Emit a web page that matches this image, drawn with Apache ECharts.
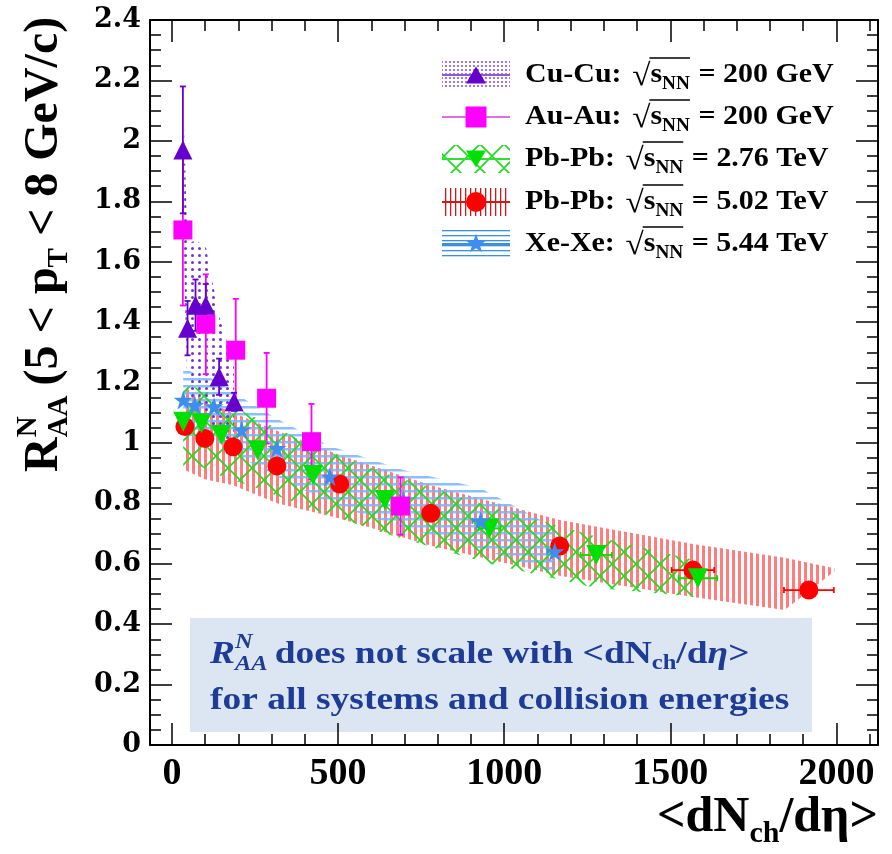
<!DOCTYPE html>
<html><head><meta charset="utf-8">
<script src="https://cdn.jsdelivr.net/npm/echarts@6/dist/echarts.min.js"></script>
<style>html,body{margin:0;padding:0;background:#fff}#c{width:892px;height:854px}</style>
</head><body><div id="c"></div>
<script>
// ---------------- data ----------------
const xMajorTicks = [0, 500, 1000, 1500, 2000];
const yRange = [0, 2.4];
const xRange = [-66, 2125];

// Cu-Cu 200 GeV
const cuX = [33, 47, 71, 102, 142, 187];
const cuY = [1.97, 1.38, 1.456, 1.456, 1.219, 1.136];
const cuErr = [0.21, 0.09, 0.085, 0.07, 0.06, 0.03];
const cuBandHi = [2.17, 1.66, 1.67, 1.65, 1.42, 1.26];
const cuBandLo = [1.75, 1.15, 1.15, 1.1, 1.02, 1.0];

// Au-Au 200 GeV
const auX = [33, 102, 192, 285, 420, 688];
const auY = [1.705, 1.393, 1.307, 1.148, 1.004, 0.791];
const auErr = [0.25, 0.165, 0.17, 0.15, 0.125, 0.095];

// Pb-Pb 2.76 TeV
const pb276X = [34, 89, 149, 258, 425, 641, 956, 1277, 1583];
const pb276Y = [1.07, 1.065, 1.026, 0.976, 0.894, 0.811, 0.717, 0.629, 0.552];
const pb276XErr = [0, 0, 0, 0, 0, 0, 33, 47, 58];
const pb276BandHi = [1.19, 1.18, 1.14, 1.08, 0.99, 0.9, 0.79, 0.69, 0.61];
const pb276BandLo = [0.92, 0.92, 0.89, 0.85, 0.78, 0.7, 0.6, 0.52, 0.49];

// Pb-Pb 5.02 TeV
const pb502X = [39, 99, 184, 316, 505, 779, 1167, 1568, 1917];
const pb502Y = [1.054, 1.015, 0.987, 0.924, 0.864, 0.767, 0.659, 0.579, 0.513];
const pb502XErr = [0, 0, 0, 0, 0, 0, 0, 64, 75];
const pb502BandX = [39, 99, 184, 316, 505, 779, 1167, 1568, 1844, 1994];
const pb502BandHi = [1.185, 1.14, 1.1, 1.04, 0.96, 0.86, 0.745, 0.665, 0.62, 0.585];
const pb502BandLo = [0.91, 0.88, 0.86, 0.8, 0.75, 0.66, 0.56, 0.49, 0.447, 0.575];

// Xe-Xe 5.44 TeV
const xeX = [34, 69, 127, 210, 316, 475, 696, 929, 1152];
const xeY = [1.142, 1.125, 1.12, 1.043, 0.982, 0.888, 0.811, 0.742, 0.64];
const xeXErr = [0, 0, 0, 0, 0, 0, 15, 25, 22];
const xeBandHi = [1.25, 1.23, 1.21, 1.15, 1.08, 0.99, 0.91, 0.85, 0.72];
const xeBandLo = [1.03, 1.02, 1.01, 0.95, 0.89, 0.8, 0.72, 0.65, 0.57];

const legendSystems = ['Cu-Cu:', 'Au-Au:', 'Pb-Pb:', 'Pb-Pb:', 'Xe-Xe:'];
const legendEnergies = ['= 200 GeV', '= 200 GeV', '= 2.76 TeV', '= 5.02 TeV', '= 5.44 TeV'];
const noteLine2 = 'for all systems and collision energies';

// ---------------- styles ----------------
const FAM = '"Liberation Serif", "Times New Roman", serif';
const C_CU = '#6600cc', C_AU = '#ff00ff', C_G = '#00e000', C_R = '#ff0000', C_XE = '#3d8ef0';
const STAR = 'path://M50,2 L61,36 L97,36 L68,57 L79,92 L50,71 L21,92 L32,57 L3,36 L39,36 Z';

function makePattern(w, h, draw) {
  const c = document.createElement('canvas'); c.width = w; c.height = h;
  draw(c.getContext('2d'), w, h);
  return { image: c, repeat: 'repeat' };
}
const redPat = makePattern(6, 6, g => { g.fillStyle = 'rgba(255,70,70,0.7)'; g.fillRect(0, 0, 3, 6); });
const bluePat = makePattern(6, 7, g => { g.fillStyle = 'rgba(120,180,255,0.85)'; g.fillRect(0, 0, 6, 2.5); });
const greenPat = makePattern(24, 24, g => {
  g.strokeStyle = '#1fdc1f'; g.lineWidth = 1.6;
  g.beginPath(); g.moveTo(0, 0); g.lineTo(24, 24); g.moveTo(24, 0); g.lineTo(0, 24); g.stroke();
});
const dotPat = makePattern(7, 7, g => { g.fillStyle = '#7433d4'; g.beginPath(); g.arc(3.5, 3.5, 1.5, 0, Math.PI * 2); g.fill(); });
// legend patterns
const redPatL = makePattern(5, 5, g => { g.fillStyle = '#d01818'; g.fillRect(0, 0, 1.3, 5); });
const bluePatL = makePattern(5, 5, g => { g.fillStyle = '#3b90e0'; g.fillRect(0, 0, 5, 1.3); });
const dotPatL = makePattern(4, 4, g => { g.fillStyle = '#8a5ad8'; g.beginPath(); g.arc(2, 2, 1.1, 0, Math.PI * 2); g.fill(); });

// ---------------- series builders ----------------
function bandSeries(xs, hi, lo, fill, z) {
  return {
    type: 'custom', z, silent: true, clip: false, data: [[xs[0], hi[0]]], encode: { x: 0, y: 1 },
    renderItem: (params, api) => {
      const pts = [];
      for (let i = 0; i < xs.length; i++) pts.push(api.coord([xs[i], hi[i]]));
      for (let i = xs.length - 1; i >= 0; i--) pts.push(api.coord([xs[i], lo[i]]));
      return { type: 'polygon', shape: { points: pts }, style: { fill } };
    }
  };
}
function errSeries(xs, ys, ey, ex, color, z) {
  return {
    type: 'custom', z, silent: true, clip: false,
    data: xs.map((x, i) => [x, ys[i], ey ? ey[i] : 0, ex ? ex[i] : 0]), encode: { x: 0, y: 1 },
    renderItem: (params, api) => {
      const x = api.value(0), y = api.value(1), e = api.value(2), h = api.value(3);
      const ls = { stroke: color, lineWidth: 1.8 };
      const ch = [];
      const L = (x1, y1, x2, y2) => ch.push({ type: 'line', shape: { x1, y1, x2, y2 }, style: ls });
      if (e > 0) {
        const a = api.coord([x, y + e]), b = api.coord([x, y - e]);
        L(a[0], a[1], b[0], b[1]); L(a[0] - 3, a[1], a[0] + 3, a[1]); L(b[0] - 3, b[1], b[0] + 3, b[1]);
      }
      if (h > 0) {
        const a = api.coord([x - h, y]), b = api.coord([x + h, y]);
        L(a[0], a[1], b[0], b[1]); L(a[0], a[1] - 3, a[0], a[1] + 3); L(b[0], b[1] - 3, b[0], b[1] + 3);
      }
      return { type: 'group', children: ch };
    }
  };
}
function scat(xs, ys, symbol, size, color, z, rot) {
  return {
    type: 'scatter', z, silent: true, symbol, symbolSize: size, symbolRotate: rot || 0,
    data: xs.map((x, i) => [x, ys[i]]), itemStyle: { color, opacity: 1 }
  };
}

// ---------------- text helpers ----------------
const mctx = document.createElement('canvas').getContext('2d');
function fontOf(p) { return (p.italic ? 'italic ' : '') + 'bold ' + p.size + 'px ' + FAM; }
function runText(parts, x0, y0, color) {
  let x = x0; const out = []; const pos = [];
  for (const p of parts) {
    if (p.gap !== undefined) { x += p.gap; pos.push(x); continue; }
    const font = fontOf(p);
    mctx.font = font;
    const w = mctx.measureText(p.t).width;
    out.push({ type: 'text', silent: true, x: x, y: y0 + (p.dy || 0),
      style: { text: p.t, font, fill: color, align: 'left', verticalAlign: 'middle' } });
    pos.push(x);
    if (!p.noAdvance) x += w;
    pos.push(x);
  }
  return { els: out, end: x, pos };
}

// ---------------- graphic: legend ----------------
const graphic = [];
const legY = [75, 117, 159, 202, 244];
const symX = 442, symW = 68, symH = 28;
const legendSym = [
  { fill: dotPatL, line: '#8a5ad8', sym: 'triangle', col: C_CU, rot: 0, size: 20 },
  { fill: null, line: '#e070e0', sym: 'rect', col: C_AU, rot: 0, size: 21 },
  { fill: greenPat, line: '#30e030', sym: 'triangle', col: C_G, rot: 180, size: 20 },
  { fill: redPatL, line: '#d01818', sym: 'circle', col: C_R, rot: 0, size: 20 },
  { fill: bluePatL, line: '#3b90e0', sym: 'star', col: C_XE, rot: 0, size: 20 }
];
legendSym.forEach((s, i) => {
  const y = legY[i];
  if (s.fill) graphic.push({ type: 'rect', silent: true, shape: { x: symX, y: y - symH / 2, width: symW, height: symH }, style: { fill: s.fill } });
  graphic.push({ type: 'line', silent: true, shape: { x1: symX, y1: y, x2: symX + symW, y2: y }, style: { stroke: s.line, lineWidth: 2 } });
  const cx = symX + symW / 2, r = s.size / 2;
  if (s.sym === 'rect') graphic.push({ type: 'rect', silent: true, shape: { x: cx - r, y: y - r, width: s.size, height: s.size }, style: { fill: s.col } });
  else if (s.sym === 'circle') graphic.push({ type: 'circle', silent: true, shape: { cx, cy: y, r }, style: { fill: s.col } });
  else if (s.sym === 'triangle') {
    const pts = s.rot ? [[cx - r, y - r * 0.85], [cx + r, y - r * 0.85], [cx, y + r * 0.85]] : [[cx - r, y + r * 0.85], [cx + r, y + r * 0.85], [cx, y - r * 0.85]];
    graphic.push({ type: 'polygon', silent: true, shape: { points: pts }, style: { fill: s.col } });
  } else {
    const pts = [];
    for (let k = 0; k < 10; k++) { const a = -Math.PI / 2 + k * Math.PI / 5; const rr = k % 2 ? r * 0.42 : r; pts.push([cx + rr * Math.cos(a), y + rr * Math.sin(a)]); }
    graphic.push({ type: 'polygon', silent: true, shape: { points: pts }, style: { fill: s.col } });
  }
  const rt = runText([
    { t: legendSystems[i], size: 28 }, { gap: 10 },
    { t: '√', size: 31, dy: 2 }, { t: 's', size: 28 }, { t: 'NN', size: 18, dy: 9 }, { gap: 8 },
    { t: legendEnergies[i], size: 28 }
  ], 0, 0, '#000');
  const xs0 = rt.pos[4] - 1, xs1 = rt.pos[8];
  rt.els.push({ type: 'line', silent: true, shape: { x1: xs0, y1: -17, x2: xs1, y2: -17 }, style: { stroke: '#000', lineWidth: 1.6 } });
  graphic.push({ type: 'group', silent: true, x: 525, y: y, scaleX: 1.07, children: rt.els });
});

// ---------------- graphic: annotation box ----------------
const NOTE_C = '#1e3c96';
graphic.push({ type: 'rect', silent: true, shape: { x: 190, y: 618, width: 622, height: 114 }, style: { fill: '#dce6f2' } });
{
  const rt = runText([
    { t: 'R', size: 32, italic: true }, { t: 'N', size: 21, italic: true, dy: -12, noAdvance: true },
    { t: 'AA', size: 21, italic: true, dy: 10 }, { gap: 6 },
    { t: 'does not scale with <dN', size: 32 }, { t: 'ch', size: 21, dy: 9 }, { t: '/d', size: 32 },
    { t: 'η', size: 32, italic: true }, { t: '>', size: 32 }
  ], 0, 0, NOTE_C);
  graphic.push({ type: 'group', silent: true, x: 210, y: 655, scaleX: 1.17, children: rt.els });
  const rt2 = runText([{ t: noteLine2, size: 32 }], 0, 0, NOTE_C);
  graphic.push({ type: 'group', silent: true, x: 210, y: 701, scaleX: 1.17, children: rt2.els });
}

// ---------------- graphic: axis titles ----------------
{
  const rt = runText([
    { t: 'R', size: 48 }, { t: 'N', size: 29, dy: -16, noAdvance: true }, { t: 'AA', size: 29, dy: 15 }, { gap: 10 },
    { t: '(5 < p', size: 48 }, { t: 'T', size: 29, dy: 15 }, { t: ' < 8 GeV/c)', size: 48 }
  ], 0, 0, '#000');
  graphic.push({ type: 'group', silent: true, x: 45, y: 472, rotation: Math.PI / 2, children: rt.els });
}
{
  const rt = runText([
    { t: '<dN', size: 50 }, { t: 'ch', size: 30, dy: 16 }, { t: '/d', size: 50 }, { t: 'η', size: 50 }, { t: '>', size: 50 }
  ], 0, 0, '#000');
  graphic.push({ type: 'group', silent: true, x: 878 - rt.end, y: 818, children: rt.els });
}

// ---------------- axes ----------------
const xMinorTicks = []; for (let v = 0; v <= 2100; v += 100) xMinorTicks.push(v);
const AX = { color: '#000', width: 2 };
function xAx(pos, major, showLine) {
  return {
    type: 'value', min: xRange[0], max: xRange[1], position: pos,
    axisLine: { show: showLine, onZero: false, lineStyle: AX },
    axisTick: { show: true, inside: true, length: major ? 22 : 11, customValues: major ? xMajorTicks : xMinorTicks, lineStyle: { color: '#000', width: 1.5 } },
    axisLabel: { show: major && pos === 'bottom', customValues: xMajorTicks, margin: 10, fontFamily: FAM, fontWeight: 'bold', fontSize: 38, color: '#000',
      formatter: v => String(Math.round(v)) },
    splitLine: { show: false }, minorTick: { show: false }
  };
}
function yAx(pos) {
  return {
    type: 'value', min: yRange[0], max: yRange[1], interval: 0.2, position: pos,
    axisLine: { show: true, onZero: false, lineStyle: AX },
    axisTick: { show: true, inside: true, length: 22, lineStyle: { color: '#000', width: 1.5 } },
    minorTick: { show: true, splitNumber: 4, length: 11, lineStyle: { color: '#000', width: 1.5 } },
    axisLabel: { show: pos === 'left', margin: 9, fontFamily: '"DejaVu Serif", serif', fontWeight: 'bold', fontSize: 27, color: '#000',
      formatter: v => String(parseFloat(v.toFixed(1))) },
    splitLine: { show: false }
  };
}

const option = {
  backgroundColor: '#fff',
  animation: false,
  grid: { left: 150, right: 14, top: 20, bottom: 109, containLabel: false, outerBoundsMode: 'none' },
  xAxis: [xAx('bottom', true, true), xAx('bottom', false, false), xAx('top', true, true), xAx('top', false, false)],
  yAxis: [yAx('left'), yAx('right')],
  graphic,
  series: [
    bandSeries(pb502BandX, pb502BandHi, pb502BandLo, redPat, 1),
    bandSeries(xeX, xeBandHi, xeBandLo, bluePat, 2),
    bandSeries(pb276X, pb276BandHi, pb276BandLo, greenPat, 3),
    bandSeries(cuX, cuBandHi, cuBandLo, dotPat, 4),
    errSeries(pb502X, pb502Y, null, pb502XErr, C_R, 5),
    errSeries(pb276X, pb276Y, null, pb276XErr, C_G, 5),
    errSeries(xeX, xeY, null, xeXErr, C_XE, 5),
    errSeries(auX, auY, auErr, null, C_AU, 5),
    errSeries(cuX, cuY, cuErr, null, C_CU, 5),
    scat(pb502X, pb502Y, 'circle', 19, C_R, 6),
    scat(pb276X, pb276Y, 'triangle', 20, C_G, 7, 180),
    scat(xeX, xeY, STAR, 19, C_XE, 8),
    scat(auX, auY, 'rect', 19, C_AU, 9),
    scat(cuX, cuY, 'triangle', 19, C_CU, 10)
  ]
};
const chart = echarts.init(document.getElementById('c'), null, { renderer: 'canvas' });
chart.setOption(option);
</script>
</body></html>
